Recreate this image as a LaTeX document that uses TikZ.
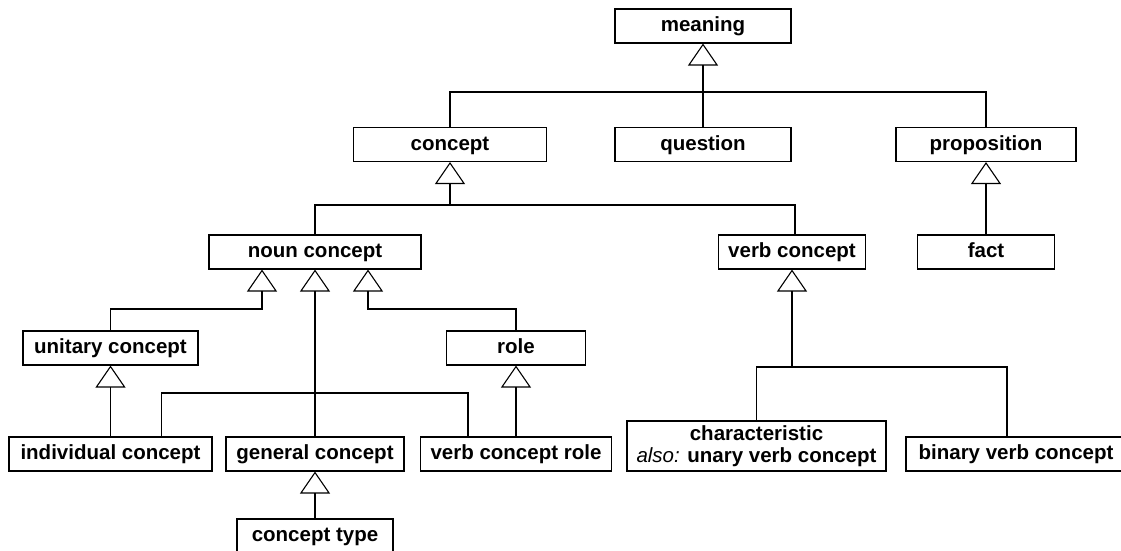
\documentclass[tikz,border=0pt]{standalone}
\usepackage{fontspec}
\setmainfont{Liberation Sans}
\usetikzlibrary{arrows.meta}

\begin{document}
\begin{tikzpicture}[x=1pt, y=-1pt,
    box/.style={draw, line width=1.1pt, inner sep=0pt, minimum height=34pt,
      text height=15.5pt, text depth=4.5pt,
      font=\bfseries\fontsize{20.5}{22}\selectfont},
    gen/.style={line width=1.1pt, -{Triangle[open, length=22pt, width=30pt]}},
    bus/.style={line width=1.1pt}]

  % Definitions
  \def\yA{92}    % Bus under meaning
  \def\yB{205}   % Bus under concept
  \def\yC{309}   % Bends under noun concept (unitary, role)
  \def\yD{393}   % Bus under noun concept (middle)
  \def\yE{367}   % Bus under verb concept
  \def\dn{53}    % Offset of the side arrows under noun concept

  \useasboundingbox (0,0) rectangle (1121,550);
  \clip (0,0) rectangle (1121,550);

  % Boxes
  \node[box, minimum width=176pt] (meaning)     at (703,26)    {meaning};
  \node[box, minimum width=193pt] (concept)     at (450,144.5) {concept};
  \node[box, minimum width=176pt] (question)    at (703,144.5) {question};
  \node[box, minimum width=180pt] (proposition) at (986,144.5) {proposition};
  \node[box, minimum width=212pt] (noun)        at (315,252)   {noun concept};
  \node[box, minimum width=147pt] (verb)        at (792,252)   {verb concept};
  \node[box, minimum width=137pt] (fact)        at (986,252)   {fact};
  \node[box, minimum width=175pt] (unitary)     at (110.5,348) {unitary concept};
  \node[box, minimum width=139pt] (role)        at (516,348)   {role};
  \node[box, minimum width=203pt] (individual)  at (110.5,454) {individual concept};
  \node[box, minimum width=178pt] (general)     at (315,454)   {general concept};
  \node[box, minimum width=191pt] (verbrole)    at (516,454)   {verb concept role};
  \node[box, minimum width=156pt] (ctype)       at (315,536)   {concept type};
  \node[box, minimum width=259pt, minimum height=50pt, text height={}, text depth={},
    align=center] (charac) at (756.5,446)
    {characteristic\\{\mdseries\itshape also:} unary verb concept};
  \node[box, minimum width=220pt] (binary)      at (1016,454)  {binary verb concept};

  % Generalizations of meaning
  \coordinate (busA) at (meaning.south |- 0,\yA);
  \draw[gen] (question.north) -- (meaning.south);
  \draw[bus] (concept.north) |- (busA) -| (proposition.north);

  % Generalizations of concept
  \coordinate (busB) at (concept.south |- 0,\yB);
  \draw[gen] (busB) -- (concept.south);
  \draw[bus] (noun.north) |- (busB) -| ([xshift=3pt]verb.north);

  % Generalization of proposition
  \draw[gen] (fact.north) -- (proposition.south);

  % Generalizations of noun concept
  \coordinate (nl) at ([xshift=-\dn pt]noun.south);
  \coordinate (nr) at ([xshift=\dn pt]noun.south);
  \coordinate (busD) at (noun.south |- 0,\yD);
  \draw[gen] (unitary.north) |- (nl |- 0,\yC) -- (nl);
  \draw[gen] (role.north) |- (nr |- 0,\yC) -- (nr);
  \draw[gen] (general.north) -- (noun.south);
  \draw[bus] ([xshift=51pt]individual.north) |- (busD) -| ([xshift=-48pt]verbrole.north);

  % Lower generalizations
  \draw[gen] (individual.north) -- (unitary.south);
  \draw[gen] (verbrole.north) -- (role.south);
  \draw[gen] (ctype.north) -- (general.south);

  % Generalizations of verb concept
  \coordinate (busE) at (verb.south |- 0,\yE);
  \draw[gen] (busE) -- (verb.south);
  \draw[bus] (charac.north) |- (busE) -| ([xshift=-9pt]binary.north);

\end{tikzpicture}
\end{document}
